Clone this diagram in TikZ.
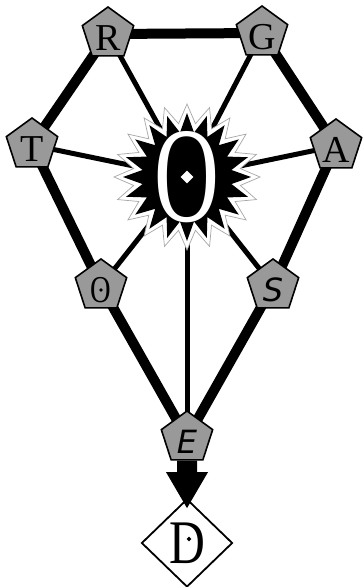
\documentclass[tikz,border=0pt]{standalone}
\usepackage{fontspec}
\setmainfont{Liberation Serif}
\setsansfont{DejaVu Sans}
\usetikzlibrary{shapes.geometric,arrows.meta}
\pgfdeclarelayer{edges}
\pgfdeclarelayer{burst}
\pgfsetlayers{edges,burst,main}
\newcommand{\pentlabel}[1]{\raisebox{-4pt}[\height][\depth]{#1}}
\begin{document}
\begin{tikzpicture}[x=1pt,y=-1pt,
  pent/.style={regular polygon,regular polygon sides=5,fill=black!40,draw=black,
    line width=1.6pt,minimum size=54pt,inner sep=0pt,font=\fontsize{38}{38}\selectfont},
  heavy edge/.style={line width=10pt},
  light edge/.style={line width=5pt},
  dotmark/.style={diamond,inner sep=0pt,minimum size=#1}]
\useasboundingbox (0,0) rectangle (363,587);

% centre
\node[text=white,inner sep=0pt,font=\fontsize{136}{136}\selectfont] (O) at (187,177) {\scalebox{0.66}[1]{O}};
\node[dotmark=13pt,fill=white] (Odot) at (O.center) {};

% pentagons
\node[pent] (R) at (108,34) {\pentlabel{R}};
\node[pent] (G) at (262,33) {\pentlabel{G}};
\node[pent] (T) at (32,145) {\pentlabel{T}};
\node[pent] (A) at (336,146) {\pentlabel{A}};
\node[pent] (o) at (101,286) {\pentlabel{\scalebox{0.75}[1]{O}}};
\node[dotmark=4pt,fill=black] (odot) at ([yshift=-4pt]o.center) {};
\node[pent] (S) at (273,286) {\pentlabel{\fontsize{32}{32}\sffamily\itshape S}};
\node[pent] (E) at (187,438) {\pentlabel{\fontsize{32}{32}\sffamily\itshape E}};

% diamond
\node[diamond,draw=black,line width=1.8pt,fill=white,minimum width=91pt,minimum height=88pt,
  inner sep=0pt,font=\fontsize{62}{62}\selectfont] (D) at (187,543) {\scalebox{0.8}[1]{D}};
\node[dotmark=5pt,fill=black] (Ddot) at ([xshift=2pt,yshift=4pt]D.center) {};

% arrow E -> D
\draw[line width=20pt,-{Triangle[width=42pt,length=36pt,line width=0pt]},shorten >=-10pt] (E.south) -- (D.north);

\begin{pgfonlayer}{edges}
  \draw[heavy edge] (R.center) -- (G.center);
  \draw[heavy edge] (R.center) -- (T.center);
  \draw[heavy edge] (G.center) -- (A.center);
  \draw[heavy edge] (T.center) -- (o.center);
  \draw[heavy edge] (o.center) -- (E.center);
  \draw[heavy edge] (A.center) -- (S.center);
  \draw[heavy edge] (S.center) -- (E.center);
  \foreach \n in {R,G,T,A,o,S,E}
    \draw[light edge] (O.center) -- (\n.center);
\end{pgfonlayer}

\begin{pgfonlayer}{burst}
  \path[fill=white,draw=black!35,line width=0.7pt] ([shift={(90:73pt)}]O.center)
    \foreach \i in {0,...,19} { -- ([shift={(90+18*\i:73pt)}]O.center) -- ([shift={(99+18*\i:54pt)}]O.center) } -- cycle;
  \path[fill=black] ([shift={(90:64pt)}]O.center)
    \foreach \i in {0,...,19} { -- ([shift={(90+18*\i:64pt)}]O.center) -- ([shift={(99+18*\i:45pt)}]O.center) } -- cycle;
\end{pgfonlayer}
\end{tikzpicture}
\end{document}
